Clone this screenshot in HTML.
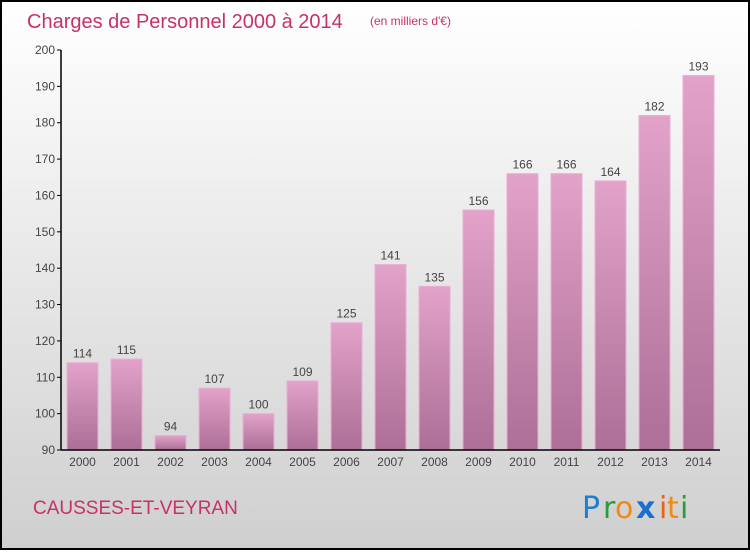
<!DOCTYPE html>
<html><head><meta charset="utf-8"><style>
body{margin:0}
#c{width:750px;height:550px;position:relative;font-family:"Liberation Sans",sans-serif}
</style></head><body>
<div id="c">
<svg width="750" height="550" id="svg">
<defs>
<linearGradient id="bg" x1="0" y1="0" x2="0" y2="1"><stop offset="0" stop-color="#ffffff"/><stop offset="1" stop-color="#cfcfcf"/></linearGradient>
<linearGradient id="bar" x1="0" y1="0" x2="0" y2="1"><stop offset="0" stop-color="#e2a2c9"/><stop offset="1" stop-color="#ad6f97"/></linearGradient>
</defs>
<rect x="1" y="1" width="748" height="548" fill="url(#bg)" stroke="#000" stroke-width="2"/>
<text x="27" y="28" font-size="20" fill="#c8306a">Charges de Personnel 2000 à 2014</text>
<text x="370" y="25" font-size="12" fill="#c8306a">(en milliers d'€)</text>
<g id="ticks"></g>
<g id="bars"></g>
<line x1="61" y1="50" x2="61" y2="450" stroke="#000" stroke-width="1.5"/>
<line x1="61" y1="450" x2="720" y2="450" stroke="#000" stroke-width="1.5"/>
<text x="33" y="514" font-size="19" fill="#c8306a">CAUSSES-ET-VEYRAN</text>
<g font-size="30" font-family="'DejaVu Sans',sans-serif">
<text x="582" y="518" fill="#1a7fd0">P</text><text x="603" y="518" fill="#2a9a40">r</text><text x="615" y="518" fill="#f08a10">o</text><text x="636" y="518" fill="#1a6fd0" font-weight="bold">x</text><text x="659" y="518" fill="#f06010">i</text><text x="667" y="518" fill="#f08a10">t</text><text x="680" y="518" fill="#2a9a40">i</text>
</g>
</svg>
</div>
<script>
const categories=["2000","2001","2002","2003","2004","2005","2006","2007","2008","2009","2010","2011","2012","2013","2014"];
const values=[114,115,94,107,100,109,125,141,135,156,166,166,164,182,193];
const yTicks=[90,100,110,120,130,140,150,160,170,180,190,200];
const NS="http://www.w3.org/2000/svg";
const y=v=>450-(v-90)*400/110;
const x=i=>82.5+i*44;
const tg=document.getElementById('ticks'),bg=document.getElementById('bars');
function mk(tag,attrs,parent){const e=document.createElementNS(NS,tag);for(const k in attrs)e.setAttribute(k,attrs[k]);parent.appendChild(e);return e;}
yTicks.forEach(t=>{
 const l=mk('line',{x1:57,x2:61,y1:y(t),y2:y(t),stroke:'#000'},tg);
 
 
 const tx=mk('text',{x:55,y:y(t)+4,'text-anchor':'end','font-size':12,fill:'#444'},tg);
 tx.textContent=t;
 
 
});
categories.forEach((c,i)=>{
 const r=mk('rect',{x:x(i)-15.5,y:y(values[i]),width:31,height:450-y(values[i]),fill:'url(#bar)',stroke:'#e8b0d4','stroke-width':1},bg);
 
 
 const v=mk('text',{x:x(i),y:y(values[i])-5,'text-anchor':'middle','font-size':12,fill:'#444'},bg);
 v.textContent=values[i];
 
 
 const xl=mk('text',{x:x(i),y:466,'text-anchor':'middle','font-size':12,fill:'#444'},bg);
 xl.textContent=c;
 
 
});
</script>
</body></html>
